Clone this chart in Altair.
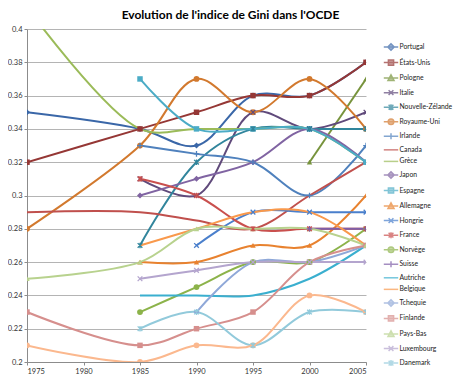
import altair as alt
import pandas as pd

annees = [1975, 1985, 1990, 1995, 2000, 2005]
N = None

pays = ["Portugal", "États-Unis", "Pologne", "Italie", "Nouvelle-Zélande", "Royaume-Uni",
        "Irlande", "Canada", "Grèce", "Japon", "Espagne", "Allemagne",
        "Hongrie", "France", "Norvège", "Suisse", "Autriche", "Belgique",
        "Tchequie", "Finlande", "Pays-Bas", "Luxembourg", "Danemark", "Suède"]

gini = {
    "Portugal":         [0.35, 0.34, 0.33, 0.36, 0.36, 0.38],
    "États-Unis":       [0.32, 0.34, 0.35, 0.36, 0.36, 0.38],
    "Pologne":          [N, N, N, N, 0.32, 0.37],
    "Italie":           [N, 0.31, 0.30, 0.35, 0.34, 0.35],
    "Nouvelle-Zélande": [N, 0.27, 0.32, 0.34, 0.34, 0.34],
    "Royaume-Uni":      [0.28, 0.33, 0.37, 0.35, 0.37, 0.34],
    "Irlande":          [N, 0.33, 0.325, 0.32, 0.30, 0.33],
    "Canada":           [0.29, 0.29, 0.285, 0.28, 0.30, 0.32],
    "Grèce":            [0.413, 0.34, 0.34, 0.34, 0.34, 0.32],
    "Japon":            [N, 0.30, 0.31, 0.32, 0.34, 0.32],
    "Espagne":          [N, 0.37, 0.34, 0.34, 0.34, 0.32],
    "Allemagne":        [N, 0.26, 0.26, 0.27, 0.27, 0.30],
    "Hongrie":          [N, N, 0.27, 0.29, 0.29, 0.29],
    "France":           [N, 0.31, 0.30, 0.28, 0.28, 0.28],
    "Norvège":          [N, 0.23, 0.245, 0.26, 0.26, 0.28],
    "Suisse":           [N, N, N, N, 0.28, 0.28],
    "Autriche":         [N, 0.24, 0.24, 0.24, 0.25, 0.27],
    "Belgique":         [N, 0.27, 0.28, 0.29, 0.29, 0.27],
    "Tchequie":         [N, N, 0.23, 0.26, 0.26, 0.27],
    "Finlande":         [0.23, 0.21, 0.22, 0.23, 0.26, 0.27],
    "Pays-Bas":         [0.25, 0.26, 0.28, 0.28, 0.28, 0.27],
    "Luxembourg":       [N, 0.25, 0.255, 0.26, 0.26, 0.26],
    "Danemark":         [N, 0.22, 0.23, 0.21, 0.23, 0.23],
    "Suède":            [0.21, 0.20, 0.21, 0.21, 0.24, 0.23],
}

marqueurs = ["diamond", "square", "triangle", "x", "star", "circle",
             "plus", "none", "none", "diamond", "square", "triangle",
             "x", "star", "circle", "plus", "none", "none",
             "diamond", "square", "triangle", "x", "star", "circle"]

couleurs = ["#3A67A8", "#953735", "#77933C", "#604A7B", "#31859C", "#D2792E",
            "#4F81BD", "#C0504D", "#9BBB59", "#8064A2", "#4BACC6", "#E8822F",
            "#4A7FCC", "#C9504E", "#8CB34A", "#7F5FA8", "#3AAFCF", "#F9994C",
            "#8FA8D8", "#D68F8D", "#B8D28E", "#B4A5CE", "#92CADB", "#FBB88E"]

y_ticks = [0.2, 0.22, 0.24, 0.26, 0.28, 0.3, 0.32, 0.34, 0.36, 0.38, 0.4]
x_ticks = [1975, 1980, 1985, 1990, 1995, 2000, 2005]

rows = []
for p, m in zip(pays, marqueurs):
    for a, v in zip(annees, gini[p]):
        if v is not None:
            rows.append({"pays": p, "annee": a, "gini": v, "marqueur": m})
df = pd.DataFrame(rows)

FONT = "Lato"

x_enc = alt.X("annee:Q",
              scale=alt.Scale(domain=[1975, 2005], nice=False, zero=False),
              axis=alt.Axis(values=x_ticks, format="d", title=None, grid=False,
                            labelFont=FONT, labelFontSize=7.5, labelColor="#333333",
                            domainColor="#8C8C8C", tickColor="#8C8C8C", tickSize=3,
                            labelPadding=2))
y_enc = alt.Y("gini:Q",
              scale=alt.Scale(domain=[0.2, 0.4], nice=False, zero=False),
              axis=alt.Axis(values=y_ticks, format="~g", title=None, grid=True,
                            gridColor="#B4B4B4", labelFont=FONT, labelFontSize=7.5,
                            labelColor="#333333", domainColor="#8C8C8C",
                            tickColor="#8C8C8C", tickSize=3, labelPadding=2))

color_scale = alt.Scale(domain=pays, range=couleurs)

base = alt.Chart(df)

lignes = base.mark_line(interpolate="catmull-rom", strokeWidth=2, clip=True).encode(
    x=x_enc, y=y_enc,
    color=alt.Color("pays:N", scale=color_scale, legend=None),
)

X_PATH = "M-1,-1L1,1M-1,1L1,-1"
STAR_PATH = "M-1,-1L1,1M-1,1L1,-1M0,-1.2L0,1.2"
PLUS_PATH = "M-1.2,0L1.2,0M0,-1.2L0,1.2"

marker_specs = [
    ("diamond", "diamond", True, 36),
    ("square", "square", True, 30),
    ("triangle", "triangle-up", True, 30),
    ("circle", "circle", True, 34),
    ("x", X_PATH, False, 22),
    ("star", STAR_PATH, False, 22),
    ("plus", PLUS_PATH, False, 22),
]

point_layers = []
for name, shape, filled, size in marker_specs:
    point_layers.append(
        base.transform_filter(alt.datum.marqueur == name)
        .mark_point(shape=shape, filled=filled, size=size, opacity=1,
                    strokeWidth=1.3, clip=True)
        .encode(x=x_enc, y=y_enc,
                color=alt.Color("pays:N", scale=color_scale, legend=None))
    )

# legend symbols: a short line with the marker in its middle
LINE = "M-1.8,0H1.8"
legend_shape = {
    "diamond": LINE + "M0,-0.8L0.8,0L0,0.8L-0.8,0Z",
    "square": LINE + "M-0.65,-0.65H0.65V0.65H-0.65Z",
    "triangle": LINE + "M0,-0.8L0.75,0.6H-0.75Z",
    "circle": LINE + "M0.7,0A0.7,0.7,0,1,1,-0.7,0A0.7,0.7,0,1,1,0.7,0Z",
    "x": LINE + "M-0.6,-0.6L0.6,0.6M-0.6,0.6L0.6,-0.6",
    "star": LINE + "M-0.6,-0.6L0.6,0.6M-0.6,0.6L0.6,-0.6M0,-0.75L0,0.75",
    "plus": LINE + "M0,-0.75L0,0.75",
    "none": LINE,
}
leg_pays = pays[:23]
leg_cols = couleurs[:23]
leg_paths = [legend_shape[m] for m in marqueurs[:23]]

leg = alt.Legend(title=None, orient="none", legendX=359, legendY=13,
                 labelFont=FONT, labelFontSize=6.8, labelColor="#222222",
                 symbolSize=64, symbolStrokeWidth=1.5, labelOffset=3.5,
                 rowPadding=2.55, padding=0, labelLimit=200)

legende = base.transform_filter("false").mark_point(filled=True, strokeWidth=1.5).encode(
    fill=alt.Fill("pays:N", scale=alt.Scale(domain=leg_pays, range=leg_cols), legend=leg),
    stroke=alt.Stroke("pays:N", scale=alt.Scale(domain=leg_pays, range=leg_cols), legend=leg),
    shape=alt.Shape("pays:N", scale=alt.Scale(domain=leg_pays, range=leg_paths), legend=leg),
)

chart = alt.layer(lignes, *point_layers, legende).properties(
    width=339, height=333,
    title=alt.TitleParams(text="Evolution de l'indice de Gini dans l'OCDE",
                          font=FONT, fontSize=12, fontWeight="bold",
                          anchor="middle", dx=34, offset=3, color="#000000"),
    autosize=alt.AutoSizeParams(type="none"),
    padding={"left": 19, "top": 21, "right": 88, "bottom": 12},
).configure_view(strokeWidth=0)

chart.save("out.html", embed_options={"renderer": "svg", "actions": False})
